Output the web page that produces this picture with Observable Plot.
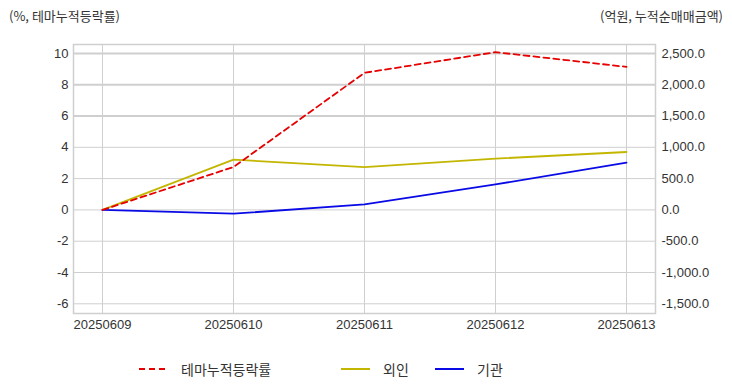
<!DOCTYPE html>
<html>
<head>
<meta charset="utf-8">
<script src="https://cdn.jsdelivr.net/npm/d3@7"></script>
<script src="https://cdn.jsdelivr.net/npm/@observablehq/plot@0.6"></script>
<style>
  html, body { margin: 0; padding: 0; background: #fff; }
  body { width: 732px; height: 392px; overflow: hidden; font-family: "Noto Sans CJK KR", "Liberation Sans", sans-serif; color: #333; }
  #titles { position: relative; height: 30px; font-size: 13px; }
  #titles .l { position: absolute; left: 9px; top: 6px; }
  #titles .r { position: absolute; right: 9px; top: 6px; }
  #legend { position: relative; height: 30px; margin-top: 14px; font-size: 14px; }
  #legend .item { position: absolute; top: 0; height: 30px; display: flex; align-items: center; }
  #legend svg { margin-right: 13px; }
</style>
</head>
<body>
<div id="titles"><span class="l">(%, 테마누적등락률)</span><span class="r">(억원, 누적순매매금액)</span></div>
<div id="chart"></div>
<div id="legend"></div>
<script>
const dates = ["20250609", "20250610", "20250611", "20250612", "20250613"];
const themeRate = [0, 2.74, 8.76, 10.08, 9.14];       // %, left axis
const foreign = [0, 803, 685, 819, 925];              // 억원, right axis
const institution = [0, -61, 88, 408, 755];           // 억원, right axis
const leftTicks = [-6, -4, -2, 0, 2, 4, 6, 8, 10];
const rightTicks = [-1500, -1000, -500, 0, 500, 1000, 1500, 2000, 2500];
const seriesNames = ["테마누적등락률", "외인", "기관"];
const seriesColors = ["#e60000", "#c3b600", "#0a0ae6"];

const ratio = 250; // right axis units per left axis unit
const fmtL = d => (d < 0 ? "-" : "") + Math.abs(d);
const fmtR = d => (d < 0 ? "-" : "") + d3.format(",.1f")(Math.abs(d));

const themeData = dates.map((d, i) => ({date: d, v: themeRate[i]}));
const foreignData = dates.map((d, i) => ({date: d, v: foreign[i]}));
const instData = dates.map((d, i) => ({date: d, v: institution[i]}));

const chart = Plot.plot({
  width: 732,
  height: 310,
  marginTop: 14,
  marginBottom: 27,
  marginLeft: 73,
  marginRight: 77,
  style: {fontFamily: "'Liberation Sans', 'Noto Sans CJK KR', sans-serif", fontSize: "13px", color: "#333", background: "#fff"},
  x: {type: "point", domain: dates, padding: 0.205, label: null},
  y: {domain: [-6.62, 10.57], label: null},
  marks: [
    Plot.gridY(leftTicks, {stroke: "#cfcfcf", strokeOpacity: 1, strokeWidth: d => d >= 6 ? 2 : 1}),
    Plot.gridX(dates, {stroke: "#cfcfcf", strokeOpacity: 1}),
    Plot.frame({stroke: "#cfcfcf", strokeWidth: 1.5}),
    Plot.axisY(leftTicks, {anchor: "left", tickSize: 0, tickPadding: 5, tickFormat: fmtL, label: null}),
    Plot.axisY(rightTicks.map(v => v / ratio), {anchor: "right", tickSize: 0, tickPadding: 6, tickFormat: d => fmtR(Math.round(d * ratio)), label: null}),
    Plot.axisX(dates, {anchor: "bottom", tickSize: 0, tickPadding: 6, label: null}),
    Plot.line(foreignData, {x: "date", y: d => d.v / ratio, stroke: seriesColors[1], strokeWidth: 1.8}),
    Plot.line(instData, {x: "date", y: d => d.v / ratio, stroke: seriesColors[2], strokeWidth: 1.8}),
    Plot.line(themeData, {x: "date", y: "v", stroke: seriesColors[0], strokeWidth: 1.8, strokeDasharray: "6,4"})
  ]
});
document.getElementById("chart").appendChild(chart);

const legend = document.getElementById("legend");
const lefts = [139, 341, 435];
seriesNames.forEach((name, i) => {
  const item = document.createElement("div");
  item.className = "item";
  item.style.left = lefts[i] + "px";
  const dash = i === 0 ? ' stroke-dasharray="6,4"' : '';
  item.innerHTML = `<svg width="29" height="10"><line x1="0" y1="5" x2="29" y2="5" stroke="${seriesColors[i]}" stroke-width="2"${dash}/></svg><span>${name}</span>`;
  legend.appendChild(item);
});
</script>
</body>
</html>
